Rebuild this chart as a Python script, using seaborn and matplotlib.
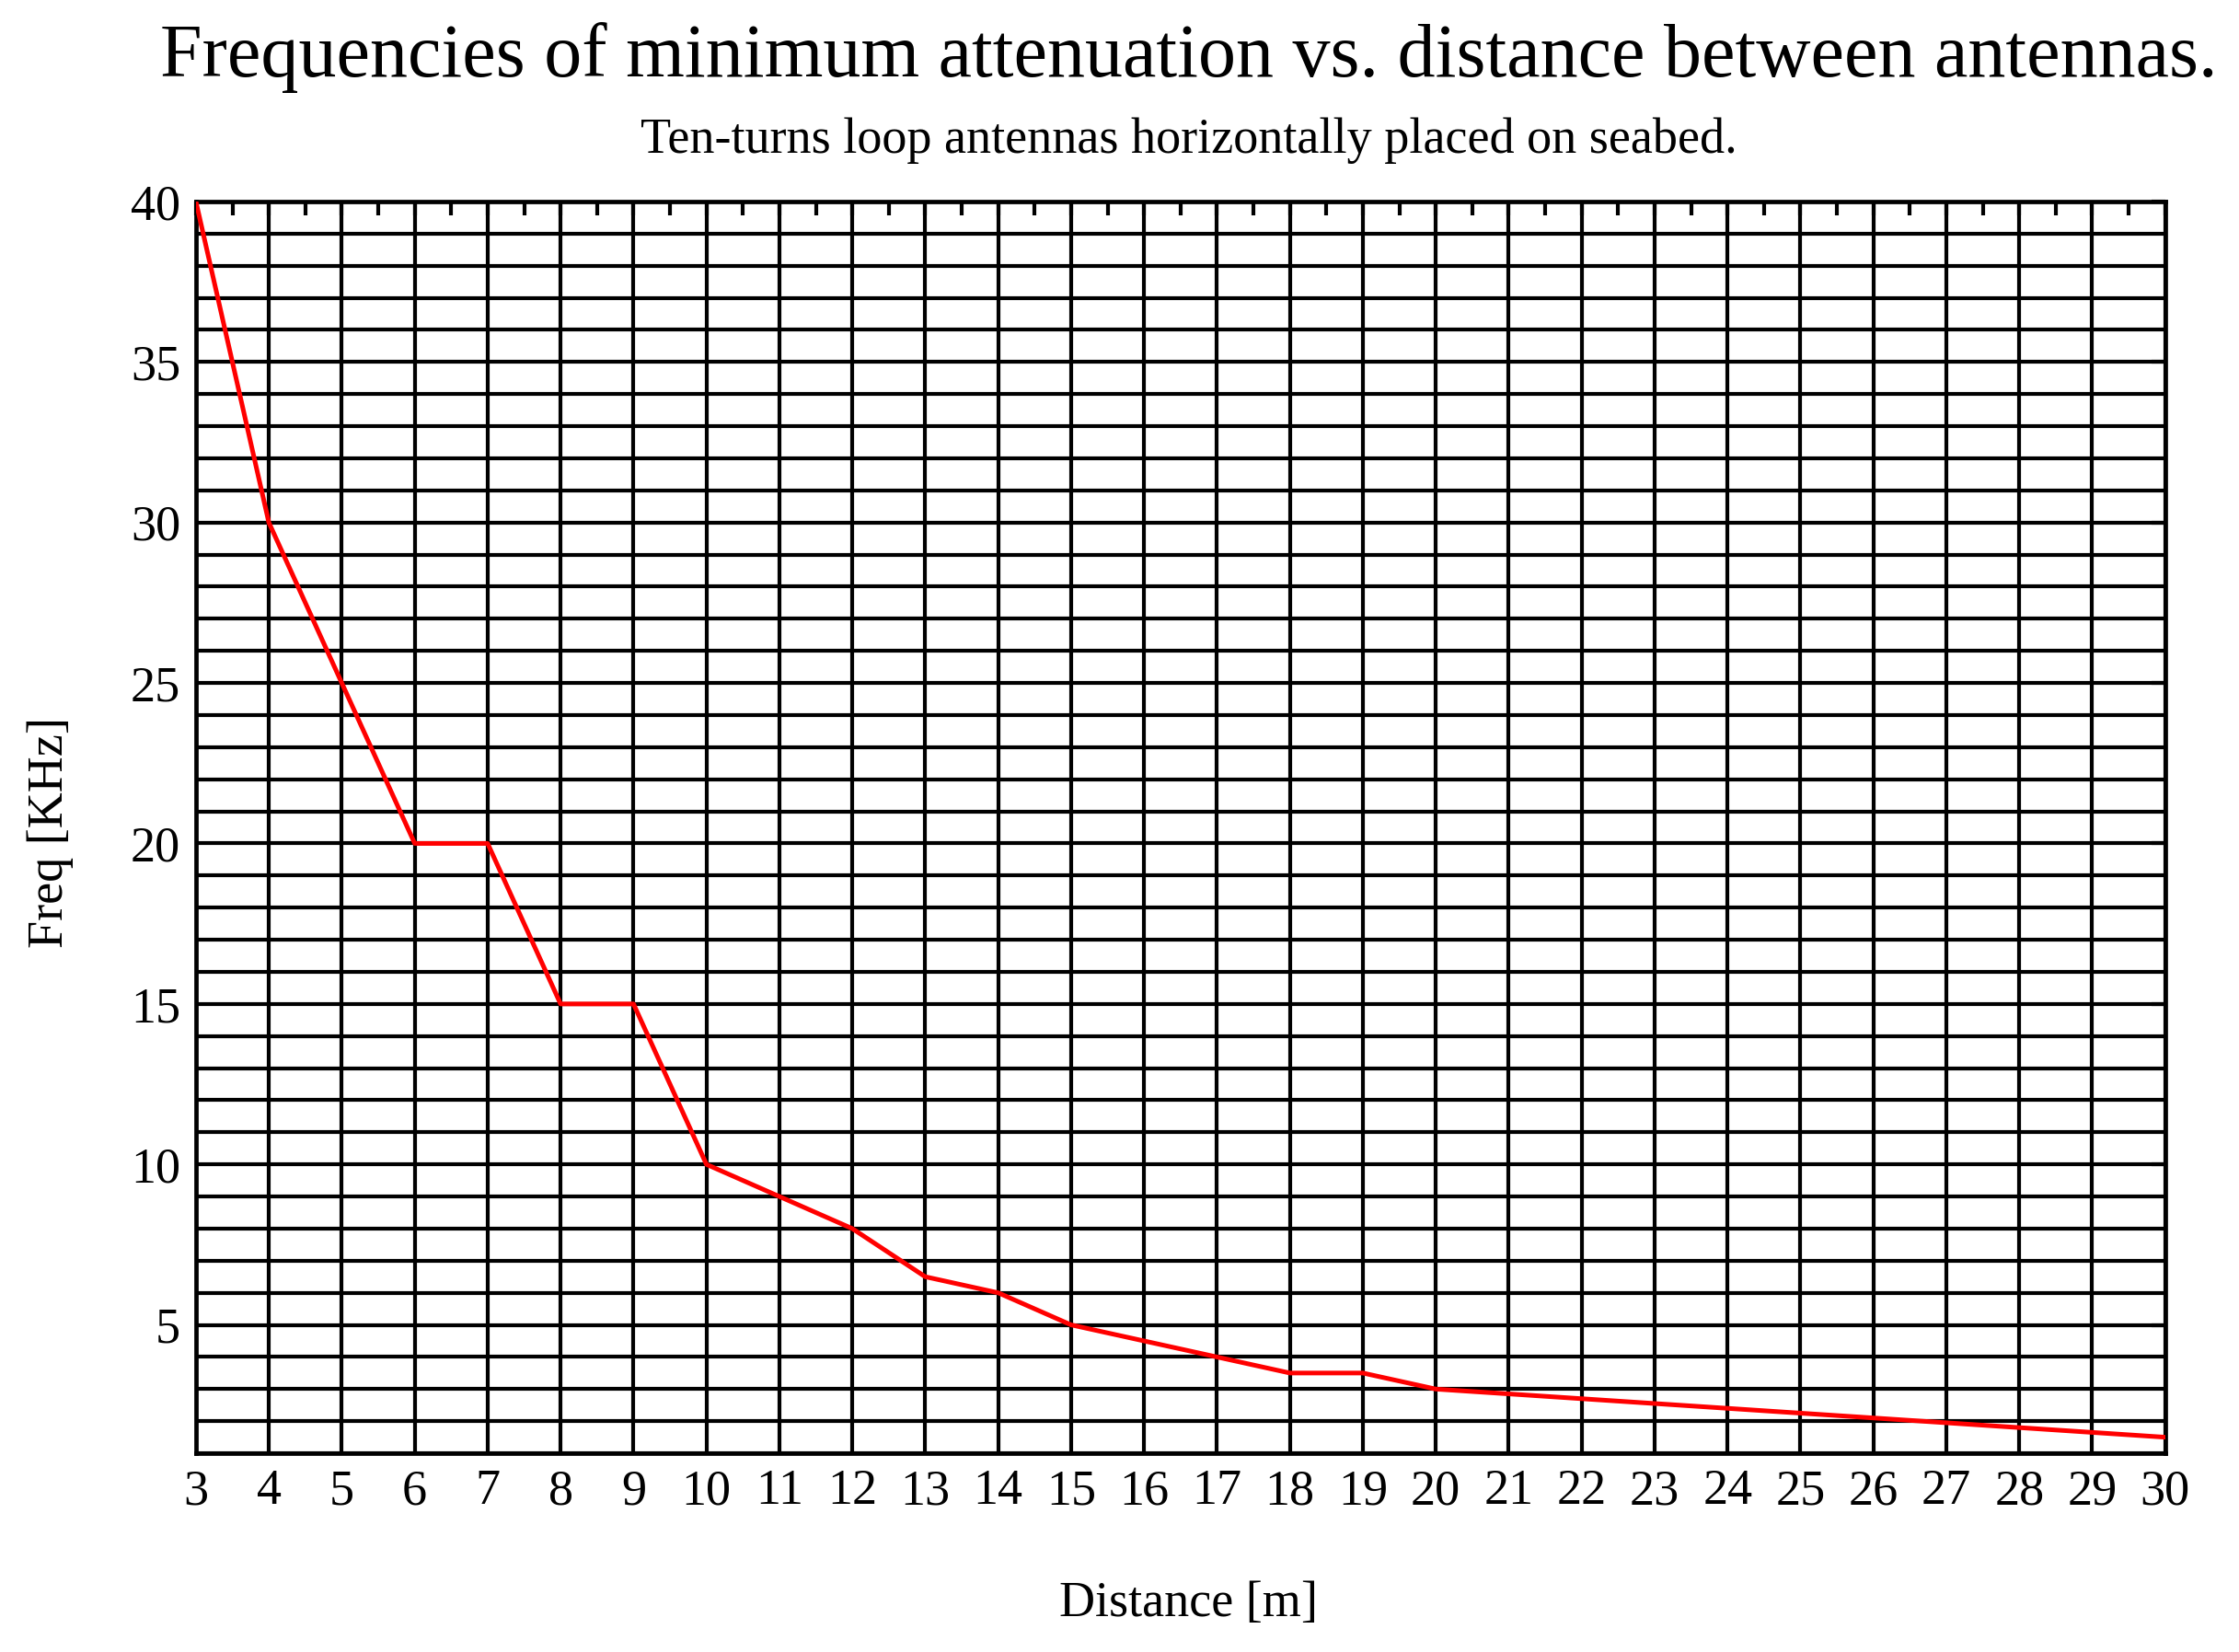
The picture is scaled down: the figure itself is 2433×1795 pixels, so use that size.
import numpy as np
import pandas as pd
import seaborn as sns
import matplotlib.pyplot as plt
from matplotlib.ticker import MultipleLocator

# distance between antennas [m] and frequency of minimum attenuation [KHz]
distance = [3, 4, 5, 6, 7, 8, 9, 10, 11, 12, 13, 14, 15, 16, 17, 18, 19, 20,
            21, 22, 23, 24, 25, 26, 27, 28, 29, 30]
freq = [40, 30, 25, 20, 20, 15, 15, 10, 9, 8, 6.5, 6, 5, 4.5, 4, 3.5, 3.5, 3,
        2.85, 2.7, 2.55, 2.4, 2.25, 2.1, 1.95, 1.8, 1.65, 1.5]

df = pd.DataFrame({"Distance": distance, "Freq": freq})

sns.set_style("white")
plt.rcParams['font.family'] = ['Liberation Serif', 'DejaVu Serif']
plt.rcParams['text.color'] = 'black'
plt.rcParams['xtick.color'] = 'black'
plt.rcParams['ytick.color'] = 'black'

fig = plt.figure(figsize=(24.33, 17.95), dpi=100)
ax = fig.add_axes([0.0875, 0.1203, 0.967 - 0.0875, 0.878 - 0.1203])

ax.xaxis.set_major_locator(MultipleLocator(1))
ax.xaxis.set_minor_locator(MultipleLocator(0.5))
ax.yaxis.set_major_locator(MultipleLocator(5))
ax.yaxis.set_minor_locator(MultipleLocator(1))
ax.grid(True, which='major', axis='x', color='black', lw=3.0)
ax.grid(True, which='both', axis='y', color='black', lw=3.0)
ax.set_axisbelow(True)

sns.lineplot(data=df, x="Distance", y="Freq", color='#ff0000', lw=3.6, ax=ax, zorder=3)

ax.set_xlim(3, 30)
ax.set_ylim(1, 40)
ax.set_yticks([5, 10, 15, 20, 25, 30, 35, 40])

for s in ax.spines.values():
    s.set_linewidth(3.4)
    s.set_color('black')

ax.tick_params(axis='both', which='both', direction='in', top=True, right=True,
               color='black', labelcolor='black', width=3.0)
ax.tick_params(axis='both', which='major', length=11, labelsize=39, pad=12)
ax.tick_params(axis='x', which='minor', length=11)
ax.tick_params(axis='y', which='minor', length=0)

ax.set_xlabel("")
ax.set_ylabel("")
fig.text(0.531, 0.965, "Frequencies of minimum attenuation vs. distance between antennas.",
         ha='center', va='center', fontsize=59)
fig.text(0.531, 0.915, "Ten-turns loop antennas horizontally placed on seabed.",
         ha='center', va='center', fontsize=39)
fig.text(0.531, 0.029, "Distance [m]", ha='center', va='center', fontsize=39)
fig.text(0.0224, 0.496, "Freq [KHz]", ha='center', va='center', fontsize=39, rotation=90)

fig.savefig("out.png", dpi=100, facecolor='white')
